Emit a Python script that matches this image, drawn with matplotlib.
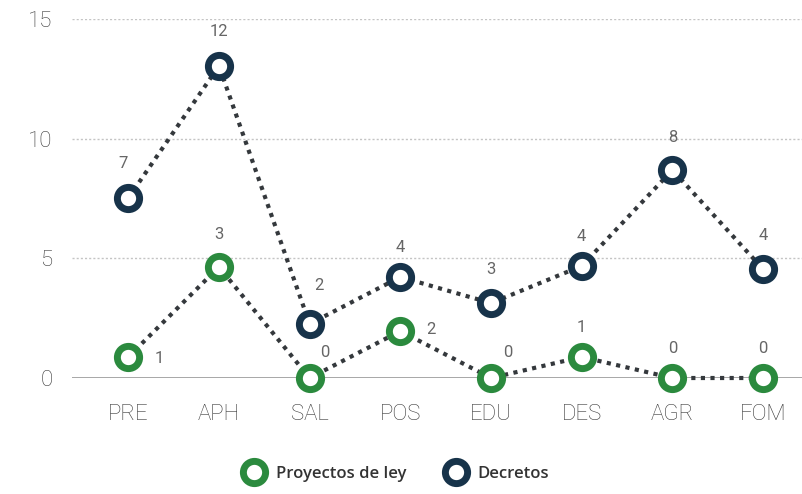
import matplotlib.pyplot as plt
from matplotlib.lines import Line2D

# Datos
categorias = ['PRE', 'APH', 'SAL', 'POS', 'EDU', 'DES', 'AGR', 'FOM']
proyectos = [0.88, 4.64, 0.0, 1.96, 0.0, 0.88, 0.0, 0.0]
decretos = [7.52, 13.04, 2.26, 4.22, 3.13, 4.68, 8.69, 4.55]
etiquetas_proyectos = ['1', '3', '0', '2', '0', '1', '0', '0']
etiquetas_decretos = ['7', '12', '2', '4', '3', '4', '8', '4']

verde = '#2b8a3e'
azul = '#17334a'
gris_linea = '#34383c'

# desplazamientos de las etiquetas (puntos)
off_proy = [(22, -1), (0, 23.5), (11, 18.5), (22, 1), (12, 18.5), (0, 21.5), (0, 21.5), (0, 21.5)]
off_dec = [(-4, 25), (0, 25), (6.5, 28), (0, 21.5), (0, 24), (0, 21.5), (0, 23.5), (0, 24)]

plt.rcParams['font.family'] = ['Roboto', 'DejaVu Sans']

fig = plt.figure(figsize=(8.03, 4.94), dpi=100)
ax = fig.add_axes([0.0897, 0.2348, 0.9103, 0.7267])

x = list(range(len(categorias)))

for serie in [proyectos, decretos]:
    ax.plot(x, serie, color=gris_linea, lw=3, linestyle=(0, (1, 1.3)),
            dash_capstyle='butt', zorder=2, clip_on=False)
for serie, color in [(proyectos, verde), (decretos, azul)]:
    ax.plot(x, serie, linestyle='none', marker='o', markersize=16,
            markeredgewidth=5, markeredgecolor=color, markerfacecolor='white',
            zorder=3, clip_on=False)

for i in x:
    ax.annotate(etiquetas_proyectos[i], (i, proyectos[i]), xytext=off_proy[i],
                textcoords='offset points', ha='center', va='center',
                fontsize=12, color='#666666')
    ax.annotate(etiquetas_decretos[i], (i, decretos[i]), xytext=off_dec[i],
                textcoords='offset points', ha='center', va='center',
                fontsize=12, color='#666666')

ax.set_xlim(-0.62, 7.44)
ax.set_ylim(0, 15)
ax.set_yticks([0, 5, 10, 15])
ax.set_xticks(x)
ax.set_xticklabels(categorias)
ax.tick_params(length=0, labelsize=16, labelcolor='#3a3a3a')
for lab in ax.get_xticklabels() + ax.get_yticklabels():
    lab.set_fontweight('light')
ax.tick_params(axis='y', pad=14)
ax.tick_params(axis='x', pad=19)

for y in [5, 10, 15]:
    ax.axhline(y, color='#c4c4c4', lw=1, linestyle=(0, (1.5, 1.5)), zorder=1)
ax.axhline(0, color='#a0a0a0', lw=1.3, zorder=1)

for s in ax.spines.values():
    s.set_visible(False)

handles = [
    Line2D([], [], linestyle='none', marker='o', markersize=16, markeredgewidth=5,
           markeredgecolor=verde, markerfacecolor='white'),
    Line2D([], [], linestyle='none', marker='o', markersize=16, markeredgewidth=5,
           markeredgecolor=azul, markerfacecolor='white'),
]
fig.legend(handles, ['Proyectos de ley', 'Decretos'], loc='center',
           bbox_to_anchor=(0.49, 0.04), ncol=2, frameon=False,
           prop={'family': ['Open Sans', 'DejaVu Sans'], 'size': 12, 'weight': 'semibold'},
           labelcolor='#333333', handletextpad=0.3, columnspacing=2.0)

fig.savefig('out.png', dpi=100)
